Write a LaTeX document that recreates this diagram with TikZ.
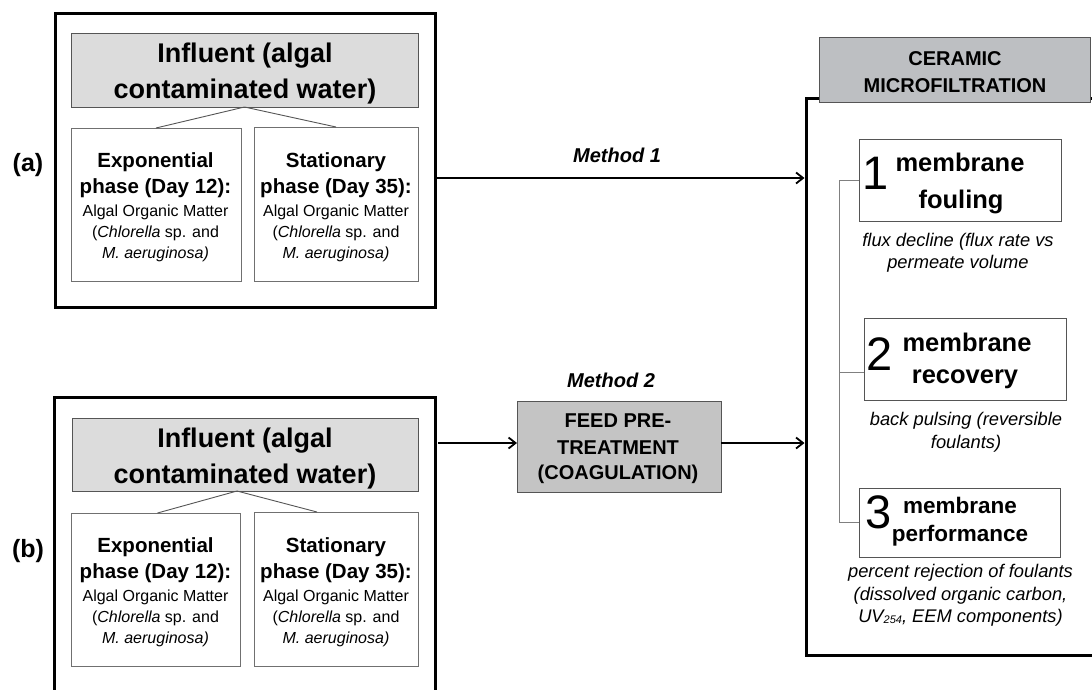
\documentclass[tikz,border=0pt]{standalone}
\usepackage{fontspec}
\setmainfont{Liberation Sans}
\usetikzlibrary{arrows.meta}
\definecolor{infgray}{HTML}{DCDCDC}
\definecolor{hdrgray}{HTML}{BDBFC2}
\definecolor{feedgray}{HTML}{C4C4C4}
\definecolor{edgegray}{HTML}{555555}
\definecolor{subgray}{HTML}{707070}
\newcommand{\fs}[1]{\fontsize{#1}{#1}\selectfont}
\begin{document}
\begin{tikzpicture}[x=1pt,y=-1pt,
  every node/.style={inner sep=0pt,outer sep=0pt},
  outerbox/.style={draw=black,line width=3pt,fill=white},
  infbox/.style={draw=edgegray,line width=1pt,fill=infgray},
  subbox/.style={draw=subgray,line width=1pt,fill=white},
  hdrbox/.style={draw=edgegray,line width=1pt,fill=hdrgray},
  feedbox/.style={draw=edgegray,line width=1pt,fill=feedgray},
  itembox/.style={draw=edgegray,line width=1pt,fill=white},
  tree/.style={draw=edgegray,line width=0.9pt},
  bracketline/.style={draw=gray,line width=1pt},
  arr/.style={draw=black,line width=1.8pt,-{Straight Barb[length=7pt,width=11pt,line width=1.8pt]}},
  inftxt/.style={anchor=base,font=\bfseries\fs{27}},
  phasetxt/.style={anchor=base,font=\bfseries\fs{20.5}},
  bodytxt/.style={anchor=base,font=\fs{16},text height=11.5pt,text depth=3.4pt},
  captxt/.style={anchor=base,font=\itshape\fs{18.3},text height=13pt,text depth=3.8pt},
  numtxt/.style={anchor=base,font=\fs{47},text height=34pt,text depth=0pt},
  memtxt/.style={anchor=base,font=\bfseries\fs{25.5},text height=19pt,text depth=5pt},
  memsmall/.style={anchor=base,font=\bfseries\fs{22.5},text height=16.5pt,text depth=4.5pt},
  hdrtxt/.style={anchor=base,font=\bfseries\fs{20},text height=14.5pt,text depth=0pt},
  feedtxt/.style={anchor=base,font=\bfseries\fs{20},text height=14.5pt,text depth=3pt},
  methtxt/.style={anchor=base,font=\bfseries\itshape\fs{20}},
  labtxt/.style={anchor=base,font=\bfseries\fs{25}}
]
\useasboundingbox (0,0) rectangle (1092,689);
\fill[white] (0,0) rectangle (1092,689);
\clip (0,0) rectangle (1092,689);

% ---------- panel (a) ----------
\node[outerbox,minimum width=380pt,minimum height=294pt] (outerA) at (245,160) {};
\node[infbox,minimum width=347pt,minimum height=74pt] (infA) at (244.5,70) {};
\node[subbox,minimum width=170pt,minimum height=153pt] (expA) at (156,204.5) {};
\node[subbox,minimum width=164pt,minimum height=154pt] (staA) at (336,204) {};
\draw[tree] (infA.south) -- (expA.north);
\draw[tree] (infA.south) -- (staA.north);
\node[inftxt] (infA1) at (245,62) {Influent (algal};
\node[inftxt] (infA2) at (245,98) {contaminated water)};
\node[phasetxt] (expA1) at (155.5,167) {Exponential};
\node[phasetxt] (expA2) at (155.5,193) {phase (Day 12):};
\node[bodytxt] (expA3) at (155.5,216) {Algal Organic Matter};
\node[bodytxt] (expA4) at (155.5,237) {(\textit{Chlorella} sp. and};
\node[bodytxt] (expA5) at (155.5,258) {\textit{M. aeruginosa)}};
\node[phasetxt] (staA1) at (336,167) {Stationary};
\node[phasetxt] (staA2) at (336,193) {phase (Day 35):};
\node[bodytxt] (staA3) at (336,216) {Algal Organic Matter};
\node[bodytxt] (staA4) at (336,237) {(\textit{Chlorella} sp. and};
\node[bodytxt] (staA5) at (336,258) {\textit{M. aeruginosa)}};
\node[labtxt] (labA) at (28,171) {(a)};

% ---------- panel (b) ----------
\node[outerbox,minimum width=381pt,minimum height=300pt] (outerB) at (244.5,547) {};
\node[infbox,minimum width=346pt,minimum height=73pt] (infB) at (245,454.5) {};
\node[subbox,minimum width=169pt,minimum height=153pt] (expB) at (155.5,589.5) {};
\node[subbox,minimum width=164pt,minimum height=154pt] (staB) at (336,589) {};
\coordinate (apexB) at ([xshift=-8pt]infB.south);
\draw[tree] (apexB) -- ([xshift=2pt]expB.north);
\draw[tree] (apexB) -- ([xshift=-19pt]staB.north);
\node[inftxt] (infB1) at (245,447) {Influent (algal};
\node[inftxt] (infB2) at (245,483) {contaminated water)};
\node[phasetxt] (expB1) at (155.5,552) {Exponential};
\node[phasetxt] (expB2) at (155.5,578) {phase (Day 12):};
\node[bodytxt] (expB3) at (155.5,601) {Algal Organic Matter};
\node[bodytxt] (expB4) at (155.5,622) {(\textit{Chlorella} sp. and};
\node[bodytxt] (expB5) at (155.5,643) {\textit{M. aeruginosa)}};
\node[phasetxt] (staB1) at (336,552) {Stationary};
\node[phasetxt] (staB2) at (336,578) {phase (Day 35):};
\node[bodytxt] (staB3) at (336,601) {Algal Organic Matter};
\node[bodytxt] (staB4) at (336,622) {(\textit{Chlorella} sp. and};
\node[bodytxt] (staB5) at (336,643) {\textit{M. aeruginosa)}};
\node[labtxt] (labB) at (28,557) {(b)};

% ---------- ceramic microfiltration ----------
\node[outerbox,minimum width=304pt,minimum height=557pt] (outerC) at (958,376.5) {};
\node[hdrbox,minimum width=271pt,minimum height=65pt] (hdr) at (954.5,69.5) {};
\node[hdrtxt] (hdr1) at (955,65) {CERAMIC};
\node[hdrtxt] (hdr2) at (955,92) {MICROFILTRATION};

\node[itembox,minimum width=202pt,minimum height=82pt] (box1) at (960,180) {};
\node[itembox,minimum width=202pt,minimum height=82pt] (box2) at (965,359) {};
\node[itembox,minimum width=201pt,minimum height=69pt] (box3) at (959.5,522.5) {};

\coordinate (brk) at (839,0);
\coordinate (b2in) at ([yshift=-13pt]box2.west);
\draw[bracketline] (box1.west) -- (brk |- box1.west) -- (brk |- box3.west) -- (box3.west);
\draw[bracketline] (b2in) -- (brk |- b2in);

\node[numtxt] (n1) at (876,189) {1};
\node[memtxt] (m1a) at (960,171) {membrane};
\node[memtxt] (m1b) at (961,208) {fouling};
\node[captxt] (c1a) at (958,246) {flux decline (flux rate vs};
\node[captxt] (c1b) at (958,268) {permeate volume};

\node[numtxt] (n2) at (880,370) {2};
\node[memtxt] (m2a) at (967,351) {membrane};
\node[memtxt] (m2b) at (965,383) {recovery};
\node[captxt] (c2a) at (966,425) {back pulsing (reversible};
\node[captxt] (c2b) at (966,448) {foulants)};

\node[numtxt] (n3) at (879,528) {3};
\node[memsmall] (m3a) at (960,513) {membrane};
\node[memsmall] (m3b) at (960,541) {performance};
\node[captxt] (c3a) at (960.5,577) {percent rejection of foulants};
\node[captxt] (c3b) at (960.5,600) {(dissolved organic carbon,};
\node[captxt] (c3c) at (960.5,622) {UV{\fs{11}\raisebox{-1pt}{254}}, EEM components)};

% ---------- methods ----------
\coordinate (y1) at (0,178);
\coordinate (y2) at (0,443);
\draw[arr] (outerA.east |- y1) -- ([xshift=-1.5pt]outerC.west |- y1);
\node[methtxt] (meth1) at (617,162) {Method 1};

\node[feedbox,minimum width=204pt,minimum height=91pt] (feed) at (619,446.5) {};
\node[feedtxt] (f1) at (618,427) {FEED PRE-};
\node[feedtxt] (f2) at (618,454) {TREATMENT};
\node[feedtxt] (f3) at (618,479) {(COAGULATION)};
\node[methtxt] (meth2) at (611,387) {Method 2};
\draw[arr] ([xshift=3pt]outerB.east |- y2) -- (feed.west |- y2);
\draw[arr] (feed.east |- y2) -- ([xshift=-1.5pt]outerC.west |- y2);
\end{tikzpicture}
\end{document}
